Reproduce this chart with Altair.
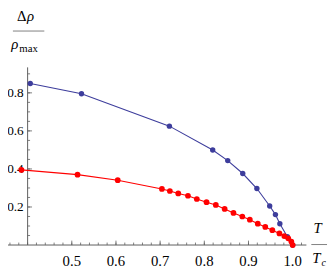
import altair as alt
import pandas as pd

# Blue series (upper curve)
blue_x = [0.406, 0.522, 0.721, 0.819, 0.853, 0.887, 0.919, 0.948, 0.961, 0.971, 0.988, 1.0]
blue_y = [0.849, 0.795, 0.625, 0.4995, 0.444, 0.376, 0.297, 0.205, 0.160, 0.112, 0.044, 0.0]

# Red series (lower curve)
red_x = [0.386, 0.513, 0.604, 0.704, 0.722, 0.741, 0.763, 0.783, 0.805, 0.826, 0.846,
         0.866, 0.886, 0.903, 0.921, 0.938, 0.954, 0.970, 0.981, 0.990, 0.997, 1.0]
red_y = [0.395, 0.370, 0.341, 0.295, 0.284, 0.271, 0.259, 0.242, 0.225, 0.211, 0.190,
         0.169, 0.150, 0.133, 0.112, 0.095, 0.078, 0.061, 0.047, 0.035, 0.018, 0.0]

x_labels = [0.5, 0.6, 0.7, 0.8, 0.9, 1.0]
x_label_text = ["0.5", "0.6", "0.7", "0.8", "0.9", "1.0"]
y_labels = [0.2, 0.4, 0.6, 0.8]
y_label_text = ["0.2", "0.4", "0.6", "0.8"]
x_minor = [round(0.36 + 0.02 * i, 2) for i in range(34)]
y_minor = [round(0.05 * i, 2) for i in range(1, 19)]

blue_df = pd.DataFrame({"x": blue_x, "y": blue_y})
red_df = pd.DataFrame({"x": red_x, "y": red_y})

BLUE = "#3d3d9c"
RED = "#ff0000"
AXIS = "#5e5e5e"
FRAC = "#808080"
FONT = "Liberation Serif, Times New Roman, serif"

xs = alt.Scale(domain=[0.3556, 1.0311], nice=False, zero=False)
ys = alt.Scale(domain=[0, 0.934], nice=False, zero=False)


def X(f):
    return alt.X(f, scale=xs, axis=None)


def Y(f):
    return alt.Y(f, scale=ys, axis=None)


XD = alt.XDatum(0.4, scale=xs, axis=None)
YD = alt.YDatum(0, scale=ys, axis=None)

blue_line = alt.Chart(blue_df).mark_line(color=BLUE, strokeWidth=1.1).encode(x=X("x:Q"), y=Y("y:Q"))
blue_pts = alt.Chart(blue_df).mark_circle(color=BLUE, size=30, opacity=1).encode(x=X("x:Q"), y=Y("y:Q"))
red_line = alt.Chart(red_df).mark_line(color=RED, strokeWidth=1.1).encode(x=X("x:Q"), y=Y("y:Q"))
red_pts = alt.Chart(red_df).mark_circle(color=RED, size=34, opacity=1).encode(x=X("x:Q"), y=Y("y:Q"))

one = pd.DataFrame({"a": [0]})

# axis lines
x_dom = alt.Chart(one).mark_rule(color=AXIS, strokeWidth=1).encode(
    x=alt.value(0), x2=alt.value(304), y=YD)
y_dom = alt.Chart(one).mark_rule(color=AXIS, strokeWidth=1).encode(
    x=XD, y=YD, y2=alt.value(0))

xt_minor = alt.Chart(pd.DataFrame({"t": x_minor})).mark_rule(
    color=AXIS, strokeWidth=0.8, y2Offset=-2.5).encode(x=X("t:Q"), y=YD, y2=alt.datum(0))
xt_major = alt.Chart(pd.DataFrame({"t": x_labels})).mark_rule(
    color=AXIS, strokeWidth=0.8, y2Offset=-4.5).encode(x=X("t:Q"), y=YD, y2=alt.datum(0))
yt_minor = alt.Chart(pd.DataFrame({"t": y_minor})).mark_rule(
    color=AXIS, strokeWidth=0.8, x2Offset=2.5).encode(y=Y("t:Q"), x=XD, x2=alt.datum(0.4))
yt_major = alt.Chart(pd.DataFrame({"t": y_labels})).mark_rule(
    color=AXIS, strokeWidth=0.8, x2Offset=4.5).encode(y=Y("t:Q"), x=XD, x2=alt.datum(0.4))

x_lab = alt.Chart(pd.DataFrame({"t": x_labels, "s": x_label_text})).mark_text(
    font=FONT, fontSize=15, baseline="alphabetic", align="center", dy=21, color="black").encode(
    x=X("t:Q"), y=YD, text="s:N")
y_lab = alt.Chart(pd.DataFrame({"t": y_labels, "s": y_label_text})).mark_text(
    font=FONT, fontSize=13.5, baseline="middle", align="right", dx=-4, color="black").encode(
    y=Y("t:Q"), x=XD, text="s:N")


def txt(s, x, y, size=15, italic=False, align="center"):
    return alt.Chart(one).mark_text(
        text=s, font=FONT, fontSize=size, fontStyle="italic" if italic else "normal",
        align=align, baseline="alphabetic", color="black").encode(
        x=alt.value(x), y=alt.value(y))


def hline(x1, x2, y):
    return alt.Chart(one).mark_rule(color=FRAC, strokeWidth=1).encode(
        x=alt.value(x1), x2=alt.value(x2), y=alt.value(y))


TOP = 58
annot = [
    txt("T", 315.5, 227 - TOP, italic=True),
    hline(309, 325, 238.5 - TOP),
    txt("T", 314, 257 - TOP, italic=True),
    txt("c", 321.5, 260 - TOP, size=10, italic=True),
    txt("Δ", 14, 11 - TOP),
    txt("ρ", 23, 11 - TOP, italic=True),
    hline(5, 37, 21 - TOP),
    txt("ρ", 7, 39 - TOP, italic=True),
    txt("max", 11.5, 42 - TOP, size=11, align="left"),
]

chart = alt.layer(
    x_dom, y_dom, xt_minor, xt_major, yt_minor, yt_major, x_lab, y_lab,
    blue_line, blue_pts, red_line, red_pts, *annot
).properties(
    width=304, height=181,
    padding={"top": TOP, "left": 0, "right": 22, "bottom": 25},
    autosize=alt.AutoSizeParams(type="none"),
).configure_view(stroke=None)

chart.save("out.html", embed_options={"renderer": "svg", "actions": False})
